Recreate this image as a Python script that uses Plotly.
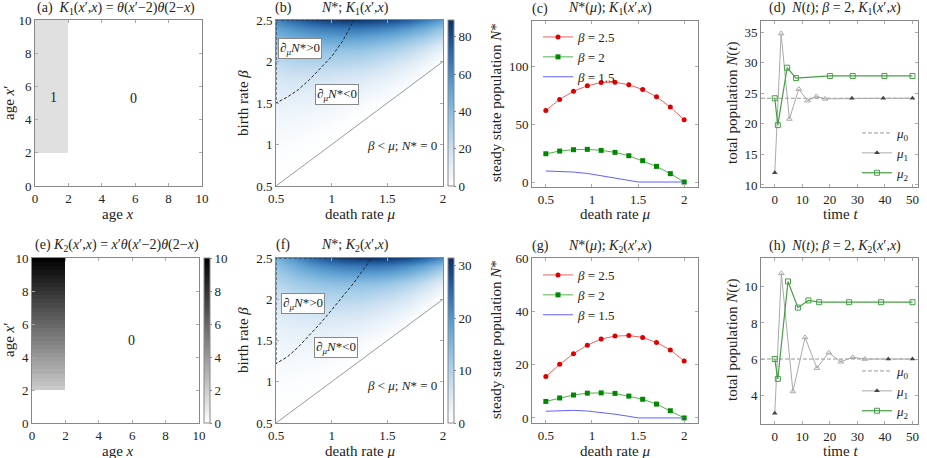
import plotly.graph_objects as go

W, H = 927, 458
FONT = "Liberation Serif, Times New Roman, serif"
FS = 13      # in-plot text
TFS = 13     # tick labels
AFS = 15     # axis titles
HFS = 14     # panel titles

# ---- data ----
# (a) / (e) kernels on the age plane
age_edges = [0, 2, 10]
k1_cells = [[0, 0], [1, 0]]
k2_age_edges = [0, 2, 2.25, 2.5, 2.75, 3, 3.25, 3.5, 3.75, 4, 4.25, 4.5, 4.75, 5, 5.25,
                5.5, 5.75, 6, 6.25, 6.5, 6.75, 7, 7.25, 7.5, 7.75, 8, 8.25, 8.5, 8.75,
                9, 9.25, 9.5, 9.75, 10]
k2_values = [2.125, 2.375, 2.625, 2.875, 3.125, 3.375, 3.625, 3.875, 4.125, 4.375,
             4.625, 4.875, 5.125, 5.375, 5.625, 5.875, 6.125, 6.375, 6.625, 6.875,
             7.125, 7.375, 7.625, 7.875, 8.125, 8.375, 8.625, 8.875, 9.125, 9.375,
             9.625, 9.875]

# (b) / (c) steady state N* for K1
mu_grid = [0.5, 0.65, 0.8, 0.95, 1.1, 1.25, 1.4, 1.55, 1.7, 1.85, 2.0]
beta_grid = [0.5, 0.6, 0.7, 0.8, 0.9, 1.0, 1.1, 1.2, 1.3, 1.4, 1.5, 1.6, 1.7,
             1.8, 1.9, 2.0, 2.1, 2.2, 2.3, 2.4, 2.5]

n1_b25 = [61.8, 71.3, 78.4, 83.0, 85.9, 86.2, 83.9, 79.9, 73.6, 64.7, 53.7]
n1_b20 = [24.4, 26.7, 27.9, 28.2, 27.3, 25.6, 22.7, 18.4, 13.5, 7.2, 0]
n1_b15_mu = [0.5, 0.65, 0.8, 0.95, 1.1, 1.25, 1.4, 1.5, 2.0]
n1_b15 = [9.5, 9.2, 8.6, 7.4, 5.6, 3.5, 1.4, 0, 0]

n1_map = [
    [0, 0, 0, 0, 0, 0, 0, 0, 0, 0, 0],
    [0.2, 0, 0, 0, 0, 0, 0, 0, 0, 0, 0],
    [0.5, 0.1, 0, 0, 0, 0, 0, 0, 0, 0, 0],
    [1.0, 0.5, 0, 0, 0, 0, 0, 0, 0, 0, 0],
    [1.6, 1.0, 0.3, 0, 0, 0, 0, 0, 0, 0, 0],
    [2.4, 1.8, 1.0, 0.1, 0, 0, 0, 0, 0, 0, 0],
    [3.4, 2.8, 1.9, 0.8, 0, 0, 0, 0, 0, 0, 0],
    [4.6, 4.0, 3.1, 1.9, 0.5, 0, 0, 0, 0, 0, 0],
    [6.0, 5.4, 4.6, 3.4, 1.8, 0.3, 0, 0, 0, 0, 0],
    [7.5, 7.0, 6.3, 5.2, 3.6, 1.6, 0, 0, 0, 0, 0],
    [9.5, 9.2, 8.6, 7.4, 5.6, 3.5, 1.4, 0, 0, 0, 0],
    [11.5, 11.5, 11.0, 10.0, 8.5, 7.0, 4.5, 2.0, 0, 0, 0],
    [13.5, 14.5, 14.5, 13.5, 12.0, 10.5, 8.0, 5.0, 1.5, 0, 0],
    [16.5, 18.0, 18.0, 17.5, 16.0, 14.5, 12.0, 8.5, 4.5, 0.5, 0],
    [20.0, 22.0, 22.5, 22.0, 21.0, 19.5, 17.0, 13.0, 8.0, 3.0, 0],
    n1_b20,
    [29, 33, 34, 35, 34, 33, 30, 26, 21, 14, 5],
    [36, 40, 42, 43, 43, 42, 39, 35, 29, 22, 13],
    [43, 48, 51, 53, 54, 53, 50, 46, 40, 33, 24],
    [52, 58, 63, 66, 68, 67, 65, 61, 55, 47, 37],
    n1_b25,
]
# d_mu N* = 0 boundary for K1
k1_zero_mu = [1.2, 0.5, 0.5, 0.6, 0.7, 0.8, 0.9, 1.0, 1.1, 1.2]
k1_zero_beta = [2.5, 2.5, 1.5, 1.57, 1.66, 1.78, 1.92, 2.06, 2.25, 2.5]

# (f) / (g) steady state N* for K2
n2_b25 = [15.5, 20.1, 24.1, 27.3, 29.6, 30.7, 30.9, 30.2, 28.3, 25.5, 21.4]
n2_b20 = [6.2, 7.5, 8.6, 9.3, 9.4, 9.2, 8.2, 7.0, 5.2, 2.7, 0]
n2_b15_mu = [0.5, 0.65, 0.8, 0.95, 1.1, 1.25, 1.4, 1.5, 2.0]
n2_b15 = [2.5, 2.75, 2.85, 2.6, 2.1, 1.4, 0.6, 0, 0]

n2_map = [
    [0, 0, 0, 0, 0, 0, 0, 0, 0, 0, 0],
    [0.1, 0, 0, 0, 0, 0, 0, 0, 0, 0, 0],
    [0.2, 0.05, 0, 0, 0, 0, 0, 0, 0, 0, 0],
    [0.3, 0.2, 0, 0, 0, 0, 0, 0, 0, 0, 0],
    [0.5, 0.4, 0.1, 0, 0, 0, 0, 0, 0, 0, 0],
    [0.7, 0.6, 0.4, 0.05, 0, 0, 0, 0, 0, 0, 0],
    [1.0, 0.9, 0.7, 0.3, 0, 0, 0, 0, 0, 0, 0],
    [1.3, 1.3, 1.1, 0.7, 0.2, 0, 0, 0, 0, 0, 0],
    [1.6, 1.7, 1.6, 1.3, 0.7, 0.1, 0, 0, 0, 0, 0],
    [2.0, 2.2, 2.2, 1.9, 1.4, 0.7, 0, 0, 0, 0, 0],
    [2.5, 2.75, 2.85, 2.6, 2.1, 1.4, 0.6, 0, 0, 0, 0],
    [3.1, 3.5, 3.7, 3.6, 3.3, 2.7, 1.8, 0.7, 0, 0, 0],
    [3.7, 4.3, 4.6, 4.6, 4.4, 3.9, 3.0, 1.7, 0.1, 0, 0],
    [4.4, 5.2, 5.7, 5.9, 5.7, 5.3, 4.4, 3.1, 1.3, 0, 0],
    [5.2, 6.2, 7.0, 7.4, 7.4, 7.0, 6.1, 4.8, 3.0, 0.6, 0],
    n2_b20,
    [7.7, 9.2, 10.3, 11.0, 11.3, 11.2, 10.5, 9.3, 7.5, 4.8, 1.5],
    [9.3, 11.2, 12.5, 13.5, 14.0, 14.0, 13.5, 12.3, 10.3, 7.5, 4.0],
    [11.0, 13.5, 15.5, 17.0, 18.0, 18.3, 18.0, 17.0, 15.0, 12.0, 8.0],
    [13.0, 16.5, 19.5, 21.5, 23.0, 23.5, 23.5, 22.5, 20.5, 17.5, 13.5],
    n2_b25,
]
k2_zero_mu = [1.36, 0.5, 0.5, 0.6, 0.7, 0.8, 0.9, 1.0, 1.1, 1.2, 1.3, 1.36]
k2_zero_beta = [2.5, 2.5, 1.22, 1.30, 1.42, 1.56, 1.71, 1.87, 2.03, 2.2, 2.39, 2.5]

extinction_mu = [0.5, 2.0]
extinction_beta = [0.5, 2.0]

# (d) N(t), beta=2, K1
d_mu0_t = [-5, 50]
d_mu0_n = [24.2, 24.2]
d_mu1_t = [0, 2.3, 5.3, 8.7, 11.9, 15.1, 18.3, 28, 39.4, 50]
d_mu1_n = [12.0, 34.8, 20.8, 25.7, 23.8, 24.5, 24.1, 24.2, 24.2, 24.2]
d_mu2_t = [0, 1.1, 4.5, 7.7, 20, 28.3, 39.8, 50]
d_mu2_n = [24.2, 19.8, 29.2, 27.5, 27.85, 27.85, 27.85, 27.85]

# (h) N(t), beta=2, K2
h_mu0_t = [-5, 50]
h_mu0_n = [6.0, 6.0]
h_mu1_t = [0, 2.4, 6.6, 11, 15.3, 19.6, 24, 28.3, 32.7, 41.2, 50]
h_mu1_n = [3.0, 10.75, 4.2, 7.2, 5.5, 6.35, 5.85, 6.1, 6.0, 6.0, 6.0]
h_mu2_t = [0, 1.1, 4.8, 8.4, 12.2, 16.1, 27, 38.6, 50]
h_mu2_n = [6.0, 4.9, 10.3, 8.85, 9.25, 9.15, 9.15, 9.15, 9.15]


def px(x):
    return x / W


def py(y):
    return 1 - y / H


fig = go.Figure()

BLUES = [[0, "#ffffff"], [0.2, "#d2e4f3"], [0.4, "#98c6e5"], [0.6, "#5c9fd1"],
         [0.8, "#2b6aab"], [1, "#0a2f66"]]
GRAY_K = [[0, "#ffffff"], [1, "#000000"]]
GRAY_A = [[0, "#ffffff"], [1, "#e0e0e0"]]


def cbar(x0, top, bottom, ticks):
    return dict(x=px(x0), xanchor="left", y=py(top), yanchor="top", xpad=0, ypad=0,
                len=(bottom - top) / H, lenmode="fraction",
                thickness=6, thicknessmode="pixels",
                outlinecolor="#888", outlinewidth=1,
                tickvals=ticks, ticks="outside", ticklen=2, tickcolor="#888",
                tickfont=dict(family=FONT, size=TFS, color="#222"))


# (a)
fig.add_trace(go.Heatmap(x=age_edges, y=age_edges, z=k1_cells, colorscale=GRAY_A,
                         zmin=0, zmax=1, showscale=False, xaxis="x", yaxis="y",
                         hoverinfo="skip"))
# (e)
k2_cells = [[0, 0]] + [[v, 0] for v in k2_values]
fig.add_trace(go.Heatmap(x=age_edges, y=k2_age_edges, z=k2_cells, colorscale=GRAY_K,
                         zmin=0, zmax=10, xaxis="x5", yaxis="y5",
                         colorbar=cbar(204, 258, 423, [0, 2, 4, 6, 8, 10])))

# (b)
fig.add_trace(go.Heatmap(x=mu_grid, y=beta_grid, z=n1_map, colorscale=BLUES,
                         zmin=0, zmax=89, zsmooth="best", xaxis="x2", yaxis="y2",
                         colorbar=cbar(448, 20, 186, [0, 20, 40, 60, 80])))
fig.add_trace(go.Scatter(x=extinction_mu, y=extinction_beta, mode="lines",
                         line=dict(color="#999", width=1), xaxis="x2", yaxis="y2",
                         showlegend=False))
fig.add_trace(go.Scatter(x=k1_zero_mu, y=k1_zero_beta, mode="lines",
                         line=dict(color="#222", width=1, dash="3px,2px"),
                         xaxis="x2", yaxis="y2", showlegend=False))
# (f)
fig.add_trace(go.Heatmap(x=mu_grid, y=beta_grid, z=n2_map, colorscale=BLUES,
                         zmin=0, zmax=31.5, zsmooth="best", xaxis="x6", yaxis="y6",
                         colorbar=cbar(448, 258, 423, [0, 10, 20, 30])))
fig.add_trace(go.Scatter(x=extinction_mu, y=extinction_beta, mode="lines",
                         line=dict(color="#999", width=1), xaxis="x6", yaxis="y6",
                         showlegend=False))
fig.add_trace(go.Scatter(x=k2_zero_mu, y=k2_zero_beta, mode="lines",
                         line=dict(color="#222", width=1, dash="3px,2px"),
                         xaxis="x6", yaxis="y6", showlegend=False))

# (c) and (g)
RED_L, RED_M = "#f06060", "#dd0000"
GRN_L, GRN_M = "#55b055", "#008800"
BLU_L = "#6060ff"
for xa, ya, lg, r, g, bmu, b in [("x3", "y3", "legend2", n1_b25, n1_b20, n1_b15_mu, n1_b15),
                                 ("x7", "y7", "legend4", n2_b25, n2_b20, n2_b15_mu, n2_b15)]:
    fig.add_trace(go.Scatter(x=mu_grid, y=r, mode="lines+markers", name="<i>β</i> = 2.5",
                             line=dict(color=RED_L, width=1),
                             marker=dict(color=RED_M, size=5, symbol="circle"),
                             xaxis=xa, yaxis=ya, legend=lg))
    fig.add_trace(go.Scatter(x=mu_grid, y=g, mode="lines+markers", name="<i>β</i> = 2",
                             line=dict(color=GRN_L, width=1),
                             marker=dict(color=GRN_M, size=5, symbol="square"),
                             xaxis=xa, yaxis=ya, legend=lg))
    fig.add_trace(go.Scatter(x=bmu, y=b, mode="lines", name="<i>β</i> = 1.5",
                             line=dict(color=BLU_L, width=1),
                             xaxis=xa, yaxis=ya, legend=lg))

# (d) and (h)
for xa, ya, lg, t0, n0, t1, n1, t2, n2, dark in [
        ("x4", "y4", "legend3", d_mu0_t, d_mu0_n, d_mu1_t, d_mu1_n, d_mu2_t, d_mu2_n, 3),
        ("x8", "y8", "legend5", h_mu0_t, h_mu0_n, h_mu1_t, h_mu1_n, h_mu2_t, h_mu2_n, 2)]:
    k = len(t1)
    filled = [i == 0 or i >= k - dark for i in range(k)]
    fig.add_trace(go.Scatter(x=t0, y=n0, mode="lines", name="<i>μ</i><sub>0</sub>",
                             line=dict(color="#999", width=1, dash="4px,2px"),
                             xaxis=xa, yaxis=ya, legend=lg))
    fig.add_trace(go.Scatter(x=t1, y=n1, mode="lines+markers", name="<i>μ</i><sub>1</sub>",
                             line=dict(color="#aaa", width=1),
                             marker=dict(size=5,
                                         symbol=["triangle-up" if f else "triangle-up-open" for f in filled],
                                         color=["#444" if f else "#aaa" for f in filled]),
                             xaxis=xa, yaxis=ya, legend=lg))
    fig.add_trace(go.Scatter(x=t2, y=n2, mode="lines+markers", name="<i>μ</i><sub>2</sub>",
                             line=dict(color="#44a044", width=1.2),
                             marker=dict(size=5, symbol="square-open", color="#44a044",
                                         line=dict(width=1)),
                             xaxis=xa, yaxis=ya, legend=lg))

# ---- axes ----
boxes = {
    1: (35, 202, 20, 186), 2: (276, 443, 20, 186), 3: (532, 698, 21, 187), 4: (761, 918, 21, 187),
    5: (32, 199, 258, 423), 6: (276, 443, 258, 423), 7: (532, 698, 258, 423), 8: (761, 918, 258, 424),
}
xset = {
    1: ([0, 10], [0, 2, 4, 6, 8, 10]), 5: ([0, 10], [0, 2, 4, 6, 8, 10]),
    2: ([0.5, 2], [0.5, 1, 1.5, 2]), 6: ([0.5, 2], [0.5, 1, 1.5, 2]),
    3: ([0.35, 2.15], [0.5, 1, 1.5, 2]), 7: ([0.35, 2.15], [0.5, 1, 1.5, 2]),
    4: ([-5, 52], [0, 10, 20, 30, 40, 50]), 8: ([-5, 52], [0, 10, 20, 30, 40, 50]),
}
yset = {
    1: ([0, 10], [0, 2, 4, 6, 8, 10]), 5: ([0, 10], [0, 2, 4, 6, 8, 10]),
    2: ([0.5, 2.5], [0.5, 1, 1.5, 2, 2.5]), 6: ([0.5, 2.5], [0.5, 1, 1.5, 2, 2.5]),
    3: ([-4.3, 139], [0, 50, 100]), 7: ([-1.9, 60], [0, 20, 40, 60]),
    4: ([9.67, 36.85], [10, 15, 20, 25, 30, 35]), 8: ([2.4, 11.6], [4, 6, 8, 10]),
}
layout = {}
for i, (x0, x1, y0, y1) in boxes.items():
    s = "" if i == 1 else str(i)
    common = dict(showline=True, linecolor="#888", linewidth=1, mirror="ticks",
                  ticks="inside", ticklen=3, tickcolor="#aaa", showgrid=False,
                  zeroline=False, automargin=False,
                  tickfont=dict(family=FONT, size=TFS, color="#222"))
    layout["xaxis" + s] = dict(domain=[px(x0), px(x1)], range=xset[i][0],
                               tickvals=xset[i][1], anchor="y" + s, **common)
    layout["yaxis" + s] = dict(domain=[py(y1), py(y0)], range=yset[i][0],
                               tickvals=yset[i][1], anchor="x" + s, **common)


def legend_at(x, y, xanchor):
    return dict(x=px(x), y=py(y), xanchor=xanchor, yanchor="top", bgcolor="rgba(0,0,0,0)",
                font=dict(family=FONT, size=13, color="#222"), tracegroupgap=0,
                itemwidth=30)


layout["legend2"] = legend_at(538, 22, "left")
layout["legend4"] = legend_at(538, 260, "left")
layout["legend3"] = legend_at(915, 118, "right")
layout["legend5"] = legend_at(915, 356, "right")

fig.update_layout(width=W, height=H, margin=dict(l=0, r=0, t=0, b=0),
                  paper_bgcolor="white", plot_bgcolor="white", showlegend=True,
                  font=dict(family=FONT, size=FS, color="#222"), **layout)
fig.update_layout(legend=dict(visible=False))

# ---- text ----
ann = []


def label(x, y, text, angle=0, size=FS):
    ann.append(dict(x=px(x), y=py(y), xref="paper", yref="paper", text=text,
                    xanchor="center", yanchor="middle",
                    showarrow=False, textangle=angle,
                    font=dict(family=FONT, size=size, color="#222")))


K1 = "<i>K</i><sub>1</sub>(<i>x</i>′,<i>x</i>)"
K2 = "<i>K</i><sub>2</sub>(<i>x</i>′,<i>x</i>)"
label(116, 8, "(a)  " + K1 + " = <i>θ</i>(<i>x</i>′−2)<i>θ</i>(2−<i>x</i>)", size=HFS)
label(117, 245, "(e) " + K2 + " = <i>x</i>′<i>θ</i>(<i>x</i>′−2)<i>θ</i>(2−<i>x</i>)", size=HFS)
label(283, 8, "(b)", size=HFS)
label(355, 8, "<i>N</i>*; " + K1, size=HFS)
label(283, 245, "(f)", size=HFS)
label(355, 245, "<i>N</i>*; " + K2, size=HFS)
label(540, 9, "(c)", size=HFS)
label(610, 9, "<i>N</i>*(<i>μ</i>); " + K1, size=HFS)
label(540, 246, "(g)", size=HFS)
label(610, 246, "<i>N</i>*(<i>μ</i>); " + K2, size=HFS)
label(835, 9, "(d)  <i>N</i>(<i>t</i>); <i>β</i> = 2, " + K1, size=HFS)
label(835, 246, "(h)  <i>N</i>(<i>t</i>); <i>β</i> = 2, " + K2, size=HFS)

for yb in (214, 451):
    label(118, yb, "age <i>x</i>", size=AFS)
    label(360, yb, "death rate <i>μ</i>", size=AFS)
    label(615, yb, "death rate <i>μ</i>", size=AFS)
    label(840, yb, "time <i>t</i>", size=AFS)
for yc in (103, 340):
    label(9, yc, "age <i>x</i>′", angle=-90, size=AFS)
    label(243, yc, "birth rate <i>β</i>", angle=-90, size=AFS)
    label(496, yc, "steady state population <i>N</i>*", angle=-90, size=AFS)
    label(732, yc, "total population <i>N</i>(<i>t</i>)", angle=-90, size=AFS)

# numbers inside kernel panels
for xa, ya, x, y, t in [("x", "y", 1.1, 5.35, "1"), ("x", "y", 5.9, 5.3, "0"),
                        ("x5", "y5", 5.95, 5.0, "0")]:
    ann.append(dict(x=x, y=y, xref=xa, yref=ya, text=t, showarrow=False,
                    font=dict(family=FONT, size=14, color="#222")))

box_style = dict(bgcolor="white", bordercolor="#888", borderwidth=1, borderpad=1)
for xa, ya, pts in [("x2", "y2", [(0.72, 2.16), (1.045, 1.6)]),
                    ("x6", "y6", [(0.745, 1.95), (1.04, 1.41)])]:
    ann.append(dict(x=pts[0][0], y=pts[0][1], xref=xa, yref=ya, showarrow=False,
                    text="∂<sub><i>μ</i></sub><i>N</i>*>0",
                    font=dict(family=FONT, size=FS, color="#222"), **box_style))
    ann.append(dict(x=pts[1][0], y=pts[1][1], xref=xa, yref=ya, showarrow=False,
                    text="∂<sub><i>μ</i></sub><i>N</i>*<0",
                    font=dict(family=FONT, size=FS, color="#222"), **box_style))
for xa, ya, y in [("x2", "y2", 0.985), ("x6", "y6", 0.95)]:
    ann.append(dict(x=1.63, y=y, xref=xa, yref=ya, showarrow=False,
                    text="<i>β</i> < <i>μ</i>; <i>N</i>* = 0",
                    font=dict(family=FONT, size=FS, color="#222")))

fig.update_layout(annotations=ann)
fig.write_html("out.html", config={"displayModeBar": False},
               post_script="document.body.style.margin = '0px';")
